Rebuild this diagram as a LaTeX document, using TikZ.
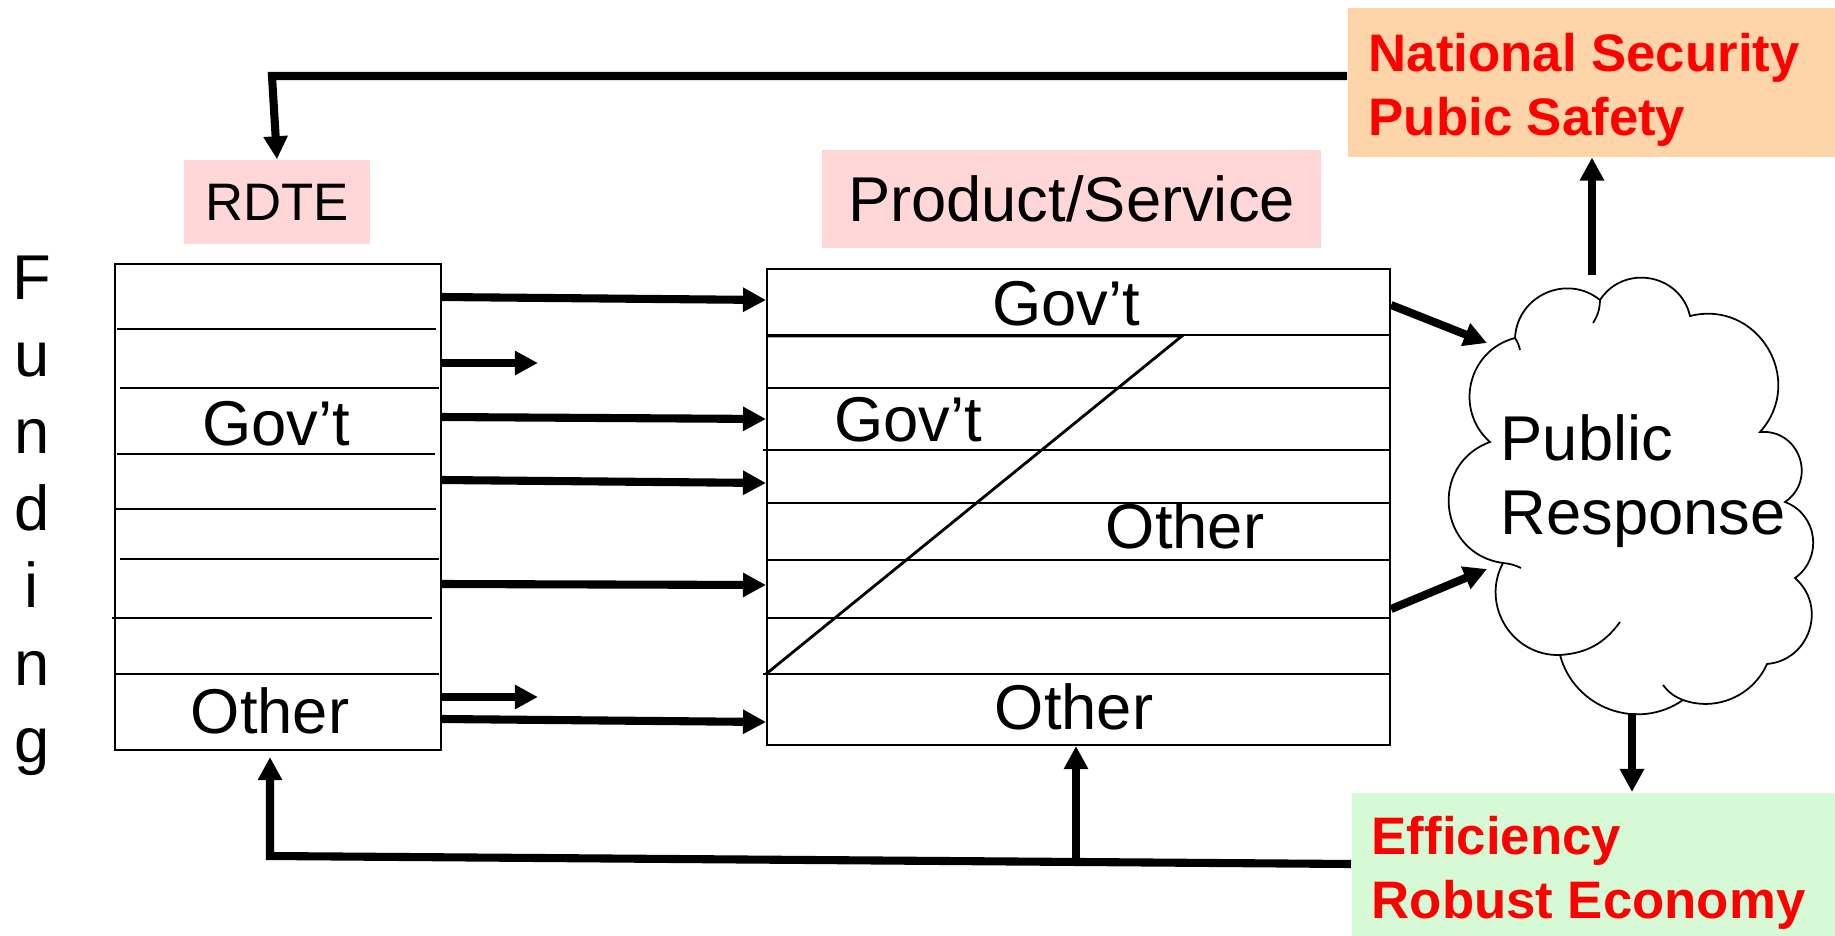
\documentclass[tikz,border=0pt]{standalone}
\usepackage{fontspec}
\setmainfont{Liberation Sans}
\usetikzlibrary{arrows.meta, % for triangle tips
                positioning}
\definecolor{headpink}{RGB}{255,215,215}
\definecolor{goalpeach}{RGB}{253,213,168}
\definecolor{goalgreen}{RGB}{214,250,214}

\begin{document}
\begin{tikzpicture}[x=0.01cm, y=-0.01cm,
    Table/.style={draw, line width=0.5pt, rectangle, inner sep=0pt, anchor=north west},
    Row/.style={line width=0.5pt},
    Flow/.style={line width=2.3pt, -{Triangle[length=0.23cm, width=0.23cm]}},
    Head/.style={fill=headpink, inner sep=0pt, font=\fontsize{18}{21}\selectfont},
    Goal/.style={inner sep=0pt, anchor=north west},
    GoalText/.style={inner sep=0pt, anchor=base west, text=red, font=\fontsize{15}{18}\selectfont\bfseries},
    Label/.style={inner sep=0pt, anchor=base, font=\fontsize{18}{21}\selectfont}
    ]
    \useasboundingbox (0,0) rectangle (1835,936);

    %Funding letters
    \foreach \letter [count=\i from 0] in {F,u,n,d,i,n,g}
        \node[Label] (fund\i) at (32,{299+77.2*\i}) {\letter};

    %RDTE table
    \node[Head, minimum width=1.86cm, minimum height=0.84cm, font=\fontsize{15}{18}\selectfont] (rdte) at (277,202) {RDTE};
    \node[Table, minimum width=3.26cm, minimum height=4.86cm] (funds) at (114,263) {};
    \foreach \xa/\xb/\y in {117/436/329, 120/439/388, 117/435/454, 116/436/509,
                            120/439/559, 112/432/618, 116/439/674}
        \draw[Row] (\xa,\y) -- (\xb,\y);
    \node[Label] (fgov) at (276,445) {Gov’t};
    \node[Label] (foth) at (270,733) {Other};

    %Product/Service table
    \node[Head, minimum width=4.99cm, minimum height=0.98cm] (prod) at (1071.5,199) {Product/Service};
    \node[Table, minimum width=6.23cm, minimum height=4.76cm] (prods) at (766,268) {};
    \foreach \xa/\y in {766/335, 766/388, 763/450, 766/503, 766/560, 766/618, 763/674}
        \draw[Row] (\xa,\y) -- (prods.east |- 0,\y);
    \draw[Row, line width=0.8pt] (766,336) -- (1182,336) -- (766,674);
    \node[Label] (pgov) at (1066,325) {Gov’t};
    \node[Label] (pgovb) at (908,441) {Gov’t};
    \node[Label] (poth) at (1185,548) {Other};
    \node[Label] (pothb) at (1074,729) {Other};

    %funding flows
    \foreach \ya/\yb in {297/300, 417/419, 480/483, 584/585, 719/722}
        \draw[Flow] (funds.east |- 0,\ya) -- (prods.west |- 0,\yb);
    \foreach \y in {363, 697}
        \draw[Flow] (funds.east |- 0,\y) -- ++(96,0);

    %Public response cloud
    \draw[Row] (1515,338) to[bend left=63, looseness=1.17] (1600,300)
        to[bend left=67, looseness=1.22] (1690,316)
        to[bend left=73, looseness=1.32] (1760,432)
        to[bend left=75, looseness=1.36] (1785,502)
        to[bend left=62, looseness=1.16] (1795,578)
        to[bend left=67, looseness=1.22] (1767,664)
        to[bend left=43, looseness=0.98] (1683,700)
        to[bend left=55, looseness=1.08] (1560,655)
        to[bend left=60, looseness=1.13] (1503,563)
        to[bend left=76, looseness=1.38] (1490,442)
        to[bend left=62, looseness=1.16] (1515,338);
    %puff tails
    \draw[Row] (1515,338) to[bend left=10] (1520,350);
    \draw[Row] (1600,300) to[bend left=15] (1593,323);
    \draw[Row] (1683,700) to[bend left=15] (1663,685);
    \draw[Row] (1560,655) to[bend right=25] (1620,622);
    \draw[Row] (1503,563) to[bend left=10] (1521,568);
    \node[Label, anchor=base west] (pub) at (1500,460) {Public};
    \node[Label, anchor=base west] (resp) at (1500,534) {Response};
    \coordinate (inup) at (1487,343);
    \coordinate (indn) at (1487,569);
    \coordinate (crowdtop) at (1592,275);
    \coordinate (crowdbot) at (1632,713);
    \draw[Flow] (prods.east |- 0,305) -- (inup);
    \draw[Flow] (prods.east |- 0,609) -- (indn);

    %Goal boxes
    \node[Goal, fill=goalpeach, minimum width=4.88cm, minimum height=1.49cm] (natsec) at (1347,7) {};
    \node[GoalText] (ns1) at (1368,71) {National Security};
    \node[GoalText] (ns2) at (1368,135) {Pubic Safety};
    \node[Goal, fill=goalgreen, minimum width=4.84cm, minimum height=1.44cm] (econ) at (1351,792) {};
    \node[GoalText] (ec1) at (1371,854) {Efficiency};
    \node[GoalText] (ec2) at (1371,918) {Robust Economy};

    \draw[Flow] (crowdtop) -- (natsec.south -| crowdtop);
    \draw[Flow] (crowdbot) -- (econ.north -| crowdbot);

    %feedback loops
    \draw[Flow] (natsec.west |- 0,76) -- (272,76) -- (rdte.north);
    \draw[Flow, shorten >=0.06cm] (econ.west |- 0,864) -- (270,856) -- (funds.south -| 270,0);
    \draw[Flow] (1076,861) -- (prods.south -| 1076,0);
\end{tikzpicture}
\end{document}
